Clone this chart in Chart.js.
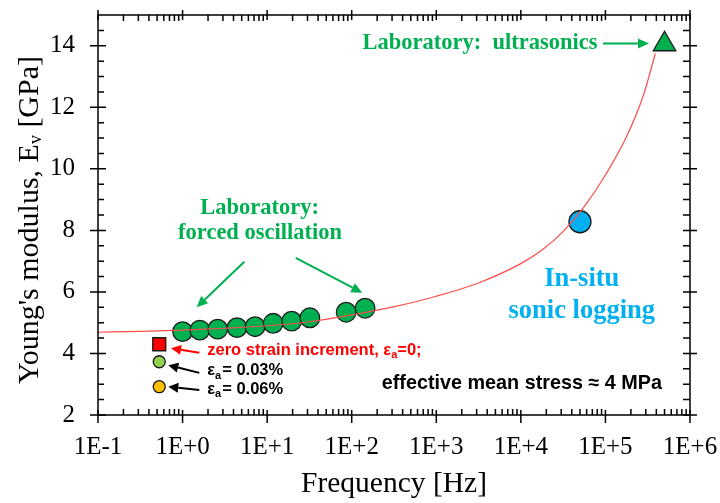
<!DOCTYPE html>
<html><head><meta charset="utf-8">
<script src="https://cdn.jsdelivr.net/npm/chart.js@4/dist/chart.umd.min.js"></script>
<style>html,body{margin:0;padding:0;background:#fff;}#wrap{width:720px;height:503px;}</style>
</head><body><div id="wrap"><canvas id="c" width="720" height="503"></canvas></div>
<script>
// ---- data ----
const xTickValues = [0.1, 1, 10, 100, 1000, 10000, 100000, 1000000];
const xTickLabels = ['1E-1', '1E+0', '1E+1', '1E+2', '1E+3', '1E+4', '1E+5', '1E+6'];
const yTickValues = [2, 4, 6, 8, 10, 12, 14];
const yMinorValues = [2.5,3,3.5,4.5,5,5.5,6.5,7,7.5,8.5,9,9.5,10.5,11,11.5,12.5,13,13.5,14.5];

const forcedFreq = [1.0, 1.6, 2.6, 4.4, 7.2, 11.8, 19.5, 32, 86, 144];
const forcedE    = [4.71, 4.76, 4.79, 4.84, 4.87, 4.98, 5.05, 5.16, 5.34, 5.47];
const sonicFreq = [50000];
const sonicE    = [8.28];
const ultraFreq = [500000];
const ultraE    = [14.05];
const zeroStrainFreq = [0.53];
const zeroStrainE    = [4.30];
const strain003Freq = [0.53];
const strain003E    = [3.73];
const strain006Freq = [0.53];
const strain006E    = [2.92];
const fitFreq = [0.1, 0.32, 1, 3.2, 10, 32, 100, 320, 1000, 3200, 10000, 17800, 31600, 56200, 100000, 178000, 282000, 389000];
const fitE    = [4.69, 4.72, 4.76, 4.82, 4.90, 5.03, 5.25, 5.52, 5.86, 6.30, 6.92, 7.36, 7.96, 8.77, 9.80, 11.05, 12.40, 13.75];

const pts = (xs, ys) => xs.map((x, i) => ({x, y: ys[i]}));

const SERIF = '"Liberation Serif", "Times New Roman", serif';
const SANS = '"Liberation Sans", Arial, sans-serif';
const GREEN = '#00B050', CYAN = '#00B0F0';

function drawRuns(ctx, runs, x, y, align) {
  let total = 0;
  runs.forEach(r => { ctx.font = r.font; r.w = ctx.measureText(r.text).width + (r.gap || 0); total += r.w; });
  let cx = align === 'center' ? x - total / 2 : (align === 'right' ? x - total : x);
  ctx.textAlign = 'left';
  ctx.textBaseline = 'middle';
  runs.forEach(r => { ctx.font = r.font; ctx.fillStyle = r.color; ctx.fillText(r.text, cx, y + (r.dy || 0)); cx += r.w; });
}
function arrow(ctx, a, b, color, lw, hl, hw) {
  const ang = Math.atan2(b.y - a.y, b.x - a.x);
  const bx = b.x - Math.cos(ang) * hl, by = b.y - Math.sin(ang) * hl;
  ctx.strokeStyle = color; ctx.fillStyle = color; ctx.lineWidth = lw;
  ctx.beginPath(); ctx.moveTo(a.x, a.y); ctx.lineTo(bx, by); ctx.stroke();
  ctx.beginPath();
  ctx.moveTo(b.x, b.y);
  ctx.lineTo(bx + Math.sin(ang) * hw, by - Math.cos(ang) * hw);
  ctx.lineTo(bx - Math.sin(ang) * hw, by + Math.cos(ang) * hw);
  ctx.closePath(); ctx.fill();
}

const decorPlugin = {
  id: 'decor',
  afterDraw(chart) {
    const ctx = chart.ctx, xs = chart.scales.x, ys = chart.scales.y, a = chart.chartArea;
    const P = (lf, e) => ({x: xs.getPixelForValue(Math.pow(10, lf)), y: ys.getPixelForValue(e)});
    ctx.save();
    // frame
    ctx.strokeStyle = '#000'; ctx.lineWidth = 1.5;
    ctx.strokeRect(a.left, a.top, a.right - a.left, a.bottom - a.top);
    ctx.beginPath();
    xTickValues.forEach(v => {
      const px = xs.getPixelForValue(v);
      ctx.moveTo(px, a.bottom - 5); ctx.lineTo(px, a.bottom + 8);
      ctx.moveTo(px, a.top - 5); ctx.lineTo(px, a.top + 5);
    });
    for (let d = -1; d < 6; d++) {
      for (let m = 2; m <= 9; m++) {
        const px = xs.getPixelForValue(m * Math.pow(10, d));
        ctx.moveTo(px, a.bottom); ctx.lineTo(px, a.bottom - 6);
        ctx.moveTo(px, a.top); ctx.lineTo(px, a.top + 6);
      }
    }
    yTickValues.forEach(v => {
      const py = ys.getPixelForValue(v);
      ctx.moveTo(a.left - 8, py); ctx.lineTo(a.left + 8, py);
      ctx.moveTo(a.right - 7, py); ctx.lineTo(a.right + 7, py);
    });
    yMinorValues.forEach(v => {
      const py = ys.getPixelForValue(v);
      ctx.moveTo(a.left, py); ctx.lineTo(a.left + 6, py);
      ctx.moveTo(a.right, py); ctx.lineTo(a.right - 7, py);
    });
    ctx.stroke();

    // axis titles
    ctx.fillStyle = '#000';
    ctx.font = '29.5px ' + SERIF; ctx.textAlign = 'center'; ctx.textBaseline = 'middle';
    ctx.fillText('Frequency [Hz]', (a.left + a.right) / 2, 484);
    ctx.save();
    ctx.translate(30, 220); ctx.rotate(-Math.PI / 2);
    drawRuns(ctx, [
      {text: "Young's modulus, E", font: '30px ' + SERIF, color: '#000'},
      {text: 'v', font: '18px ' + SERIF, color: '#000', dy: 6},
      {text: ' [GPa]', font: '30px ' + SERIF, color: '#000'}
    ], 0, 0, 'center');
    ctx.restore();

    // green annotations
    const gb = 'bold 22.5px ' + SERIF;
    let p = P(3.517, 14.07);
    drawRuns(ctx, [{text: 'Laboratory:  ultrasonics', font: gb, color: GREEN}], p.x, p.y, 'center');
    arrow(ctx, P(4.971, 14.07), P(5.515, 14.07), GREEN, 2, 11, 5);
    p = P(0.910, 8.71);
    drawRuns(ctx, [{text: 'Laboratory:', font: gb, color: GREEN}], p.x, p.y, 'center');
    p = P(0.916, 7.90);
    drawRuns(ctx, [{text: 'forced oscillation', font: gb, color: GREEN}], p.x, p.y, 'center');
    arrow(ctx, P(0.730, 6.98), P(0.167, 5.50), GREEN, 2, 11, 5);
    arrow(ctx, P(1.338, 7.11), P(2.125, 5.97), GREEN, 2, 11, 5);

    // cyan annotation
    const cb = 'bold 26.5px ' + SERIF;
    p = P(4.72, 6.41);
    drawRuns(ctx, [{text: 'In-situ', font: cb, color: CYAN}], p.x, p.y, 'center');
    p = P(4.72, 5.36);
    drawRuns(ctx, [{text: 'sonic logging', font: cb, color: CYAN}], p.x, p.y, 'center');

    // legend-like labels
    arrow(ctx, P(0.198, 4.02), P(-0.137, 4.17), '#FF0000', 2, 10, 5);
    arrow(ctx, P(0.198, 3.37), P(-0.169, 3.62), '#000', 2, 10, 5);
    arrow(ctx, P(0.198, 2.81), P(-0.169, 2.92), '#000', 2, 10, 5);
    const sb = 'bold 16.5px ' + SANS, ss = 'bold 11px ' + SANS;
    p = P(0.292, 4.11);
    drawRuns(ctx, [
      {text: 'zero strain increment, ε', font: sb, color: '#FF0000'},
      {text: 'a', font: ss, color: '#FF0000', dy: 5},
      {text: '=0;', font: sb, color: '#FF0000'}
    ], p.x, p.y, 'left');
    p = P(0.292, 3.44);
    drawRuns(ctx, [
      {text: 'ε', font: sb, color: '#000'},
      {text: 'a', font: ss, color: '#000', dy: 5, gap: 1},
      {text: '= 0.03%', font: sb, color: '#000'}
    ], p.x, p.y, 'left');
    p = P(0.292, 2.845);
    drawRuns(ctx, [
      {text: 'ε', font: sb, color: '#000'},
      {text: 'a', font: ss, color: '#000', dy: 5, gap: 1},
      {text: '= 0.06%', font: sb, color: '#000'}
    ], p.x, p.y, 'left');
    p = P(5.669, 3.03);
    drawRuns(ctx, [{text: 'effective mean stress ≈ 4 MPa', font: 'bold 19.8px ' + SANS, color: '#000'}], p.x, p.y, 'right');
    ctx.restore();
  }
};

const circ = (data, color, r, style) => ({
  type: 'scatter', data, showLine: false,
  pointStyle: style || 'circle', pointRadius: r, pointHoverRadius: r,
  pointBackgroundColor: color, pointBorderColor: '#1a1a1a', pointBorderWidth: 1.3
});

new Chart(document.getElementById('c'), {
  type: 'scatter',
  data: {
    datasets: [
      {type: 'line', data: pts(fitFreq, fitE), borderColor: '#FF4B4B', borderWidth: 1.2,
       pointRadius: 0, fill: false, cubicInterpolationMode: 'monotone'},
      circ(pts(ultraFreq, ultraE), GREEN, 13, 'triangle'),
      circ(pts(sonicFreq, sonicE), CYAN, 11),
      circ(pts(forcedFreq, forcedE), GREEN, 9.8),
      circ(pts(zeroStrainFreq, zeroStrainE), '#FF0000', 9.2, 'rect'),
      circ(pts(strain003Freq, strain003E), '#92D050', 6),
      circ(pts(strain006Freq, strain006E), '#FFC000', 6)
    ]
  },
  options: {
    responsive: false, animation: false, devicePixelRatio: 1,
    layout: {padding: {top: 15, right: 30, left: 0, bottom: 0}},
    plugins: {legend: {display: false}, tooltip: {enabled: false}},
    scales: {
      x: {
        type: 'logarithmic', min: 0.1, max: 1000000,
        grid: {display: false, drawTicks: false}, border: {display: false},
        afterBuildTicks: s => { s.ticks = xTickValues.map(v => ({value: v})); },
        afterFit: s => { s.height = 88; s.paddingLeft = 0; s.paddingRight = 0; },
        ticks: {
          autoSkip: false, maxRotation: 0, padding: 17, color: '#000',
          font: {family: SERIF, size: 25},
          callback: (v) => { const i = xTickValues.indexOf(v); return i >= 0 ? xTickLabels[i] : ''; }
        }
      },
      y: {
        type: 'linear', min: 2, max: 15,
        grid: {display: false, drawTicks: false}, border: {display: false},
        afterBuildTicks: s => { s.ticks = yTickValues.map(v => ({value: v})); },
        afterFit: s => { s.width = 98; s.paddingTop = 0; s.paddingBottom = 0; },
        ticks: {padding: 23, color: '#000', font: {family: SERIF, size: 25}}
      }
    }
  },
  plugins: [decorPlugin]
});
</script></body></html>
